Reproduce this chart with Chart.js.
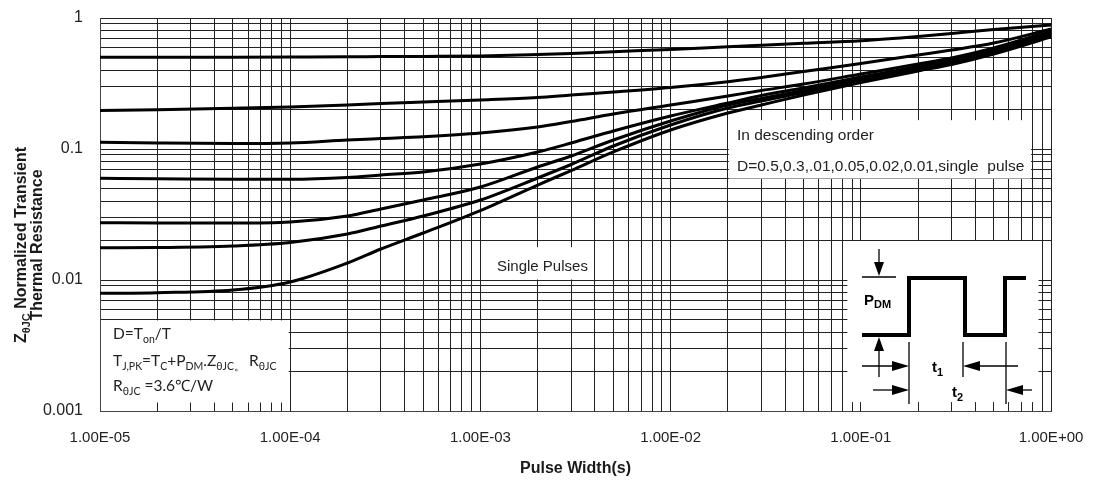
<!DOCTYPE html>
<html>
<head>
<meta charset="utf-8">
<script src="https://cdn.jsdelivr.net/npm/chart.js@4/dist/chart.umd.min.js"></script>
<style>
  html, body { margin: 0; padding: 0; background: #fff; }
  canvas { display: block; }
</style>
</head>
<body>
<canvas id="c" width="1095" height="480"></canvas>
<script>
// Pulse widths (s) at which the curves are sampled
const pulseWidths = [1e-5, 2e-5, 5e-5, 1e-4, 2e-4, 3e-4, 5e-4, 1e-3, 2e-3, 3e-3, 5e-3, 1e-2, 2e-2, 3e-2, 5e-2, 0.1, 0.2, 0.3, 0.5, 1];

// Normalized transient thermal impedance Z(thetaJC), one array per duty cycle
const zD050 = [0.501, 0.501, 0.5022, 0.5039, 0.5057, 0.5075, 0.5093, 0.5129, 0.5264, 0.5367, 0.553, 0.5747, 0.6036, 0.6197, 0.6407, 0.6707, 0.7224, 0.7615, 0.8169, 0.8843];
const zD030 = [0.1967, 0.1995, 0.2045, 0.2092, 0.2168, 0.2226, 0.2285, 0.2366, 0.2472, 0.2583, 0.2723, 0.2947, 0.3264, 0.3513, 0.3905, 0.4494, 0.5218, 0.5697, 0.6441, 0.8243];
const zD010 = [0.1125, 0.1111, 0.1101, 0.1111, 0.1171, 0.1202, 0.1241, 0.1324, 0.1472, 0.1621, 0.185, 0.2168, 0.2538, 0.2796, 0.3134, 0.3737, 0.4456, 0.4951, 0.59, 0.7957];
const zD005 = [0.0597, 0.0593, 0.0587, 0.0587, 0.0606, 0.0633, 0.0667, 0.0768, 0.0949, 0.1111, 0.1372, 0.1786, 0.2245, 0.2562, 0.2921, 0.3544, 0.4264, 0.4778, 0.5697, 0.7749];
const zD002 = [0.0274, 0.0272, 0.0272, 0.0277, 0.0308, 0.0348, 0.0408, 0.0513, 0.0729, 0.0884, 0.1171, 0.1635, 0.2168, 0.2429, 0.2796, 0.3422, 0.4153, 0.4654, 0.5598, 0.7548];
const zD001 = [0.01764, 0.0177, 0.01818, 0.01933, 0.02245, 0.02583, 0.03081, 0.04079, 0.06008, 0.07615, 0.1054, 0.1525, 0.2056, 0.2325, 0.2699, 0.3333, 0.4045, 0.4533, 0.5452, 0.7354];
const zSingle = [0.00791, 0.008, 0.00838, 0.00966, 0.01348, 0.01724, 0.02285, 0.0339, 0.0531, 0.0685, 0.0949, 0.1396, 0.1883, 0.2168, 0.2583, 0.3218, 0.394, 0.4416, 0.531, 0.716];

// Axis labels shown at each decade
const xTickLabels = ['1.00E-05', '1.00E-04', '1.00E-03', '1.00E-02', '1.00E-01', '1.00E+00'];
const xDecades = [1e-5, 1e-4, 1e-3, 1e-2, 1e-1, 1];
const yTickLabels = ['0.001', '0.01', '0.1', '1'];
const yDecades = [1e-3, 1e-2, 1e-1, 1];

const series = [zD050, zD030, zD010, zD005, zD002, zD001, zSingle];

// 1..9 x 10^n grid values between the decades
function logGrid(decades) {
  const out = [];
  for (let i = 0; i < decades.length - 1; i++) {
    for (let k = 1; k <= 9; k++) out.push(+(decades[i] * k).toPrecision(3));
  }
  out.push(decades[decades.length - 1]);
  return out;
}
function decadeLabel(value, decades, labels) {
  for (let i = 0; i < decades.length; i++) {
    if (Math.abs(value / decades[i] - 1) < 1e-6) return labels[i];
  }
  return '';
}

const SANS = '"Liberation Sans", Arial, sans-serif';
const INK = '#1a1a1a';

// Text with a lowered, smaller suffix; returns the end x position
function subText(ctx, parts, x, y, align) {
  // parts: [text, size, weight, dy, family]
  let widths = parts.map(p => { ctx.font = `${p[2]} ${p[1]}px ${p[4] || SANS}`; return ctx.measureText(p[0]).width; });
  let total = widths.reduce((a, b) => a + b, 0);
  let cx = align === 'center' ? x - total / 2 : x;
  parts.forEach((p, i) => {
    ctx.font = `${p[2]} ${p[1]}px ${p[4] || SANS}`;
    ctx.fillText(p[0], cx, y + (p[3] || 0));
    cx += widths[i];
  });
  return cx;
}

function arrowHead(ctx, tipX, tipY, dir, len, half) {
  ctx.beginPath();
  if (dir === 'right') { ctx.moveTo(tipX, tipY); ctx.lineTo(tipX - len, tipY - half); ctx.lineTo(tipX - len, tipY + half); }
  if (dir === 'left') { ctx.moveTo(tipX, tipY); ctx.lineTo(tipX + len, tipY - half); ctx.lineTo(tipX + len, tipY + half); }
  if (dir === 'down') { ctx.moveTo(tipX, tipY); ctx.lineTo(tipX - half, tipY - len); ctx.lineTo(tipX + half, tipY - len); }
  if (dir === 'up') { ctx.moveTo(tipX, tipY); ctx.lineTo(tipX - half, tipY + len); ctx.lineTo(tipX + half, tipY + len); }
  ctx.closePath();
  ctx.fill();
}

// White panels for the notes, laid over the grid
const panelsPlugin = {
  id: 'panels',
  beforeDatasetsDraw(chart) {
    const { ctx, scales: { x, y } } = chart;
    ctx.save();
    ctx.fillStyle = '#fff';
    const rect = (x0, x1, y0, y1) => ctx.fillRect(x0, y0, x1 - x0, y1 - y0);
    // legend note
    rect(x.getPixelForValue(0.02) + 1, x.getPixelForValue(0.8) - 1.5, y.getPixelForValue(0.166), y.getPixelForValue(0.06) + 0.5);
    // single pulses note
    rect(x.getPixelForValue(1e-3) + 2, x.getPixelForValue(4e-3) - 2, y.getPixelForValue(0.0178), y.getPixelForValue(0.01) - 0.5);
    // formula note
    rect(x.getPixelForValue(1e-5) + 1, x.getPixelForValue(1e-4) - 1.5, y.getPixelForValue(0.005) + 1, y.getPixelForValue(0.00116));
    // pulse diagram
    rect(x.getPixelForValue(0.085), x.getPixelForValue(0.86), y.getPixelForValue(0.0202) + 1, y.getPixelForValue(0.00117));
    ctx.restore();
  },
  afterDraw(chart) {
    const { ctx, chartArea: ca } = chart;
    ctx.save();
    ctx.fillStyle = INK;
    ctx.textBaseline = 'alphabetic';

    // Axis titles
    ctx.font = `bold 16px ${SANS}`;
    ctx.textAlign = 'center';
    ctx.fillText('Pulse Width(s)', (ca.left + ca.right) / 2, 473);

    ctx.save();
    ctx.translate(0, 245);
    ctx.rotate(-Math.PI / 2);
    ctx.textAlign = 'left';
    subText(ctx, [['Z', 16, 'bold', 0], ['θJC', 11, 'bold', 4], [' Normalized Transient', 16, 'bold', 0]], 0, 26, 'center');
    ctx.textAlign = 'center';
    ctx.font = `bold 16px ${SANS}`;
    ctx.fillText('Thermal Resistance', 0, 42);
    ctx.restore();

    ctx.textAlign = 'left';
    // Legend note
    ctx.font = `15.5px ${SANS}`;
    ctx.fillStyle = '#222';
    ctx.fillText('In descending order', 737, 140);
    ctx.fillText('D=0.5,0.3,.01,0.05,0.02,0.01,single  pulse', 737, 171);
    // Single pulses note
    ctx.font = `15px ${SANS}`;
    ctx.fillText('Single Pulses', 497, 271);

    // Formula note
    const F = 'Lato, "Open Sans", sans-serif';
    ctx.fillStyle = '#222';
    subText(ctx, [['D=T', 15.5, 'normal', 0, F], ['on', 10.5, 'normal', 4, F], ['/T', 15.5, 'normal', 0, F]], 113, 339, 'left');
    subText(ctx, [['T', 15.5, 'normal', 0, F], ['J,PK', 10.5, 'normal', 4, F], ['=T', 15.5, 'normal', 0, F], ['C', 10.5, 'normal', 4, F],
      ['+P', 15.5, 'normal', 0, F], ['DM', 10.5, 'normal', 4, F], ['.Z', 15.5, 'normal', 0, F], ['θJC。', 10.5, 'normal', 4, F],
      [' R', 15.5, 'normal', 0, F], ['θJC', 10.5, 'normal', 4, F]], 113, 366, 'left');
    subText(ctx, [['R', 15.5, 'normal', 0, F], ['θJC', 10.5, 'normal', 4, F], [' =3.6℃/W', 15.5, 'normal', 0, F]], 113, 391, 'left');

    // Pulse waveform diagram
    ctx.strokeStyle = '#000';
    ctx.fillStyle = '#000';
    ctx.lineJoin = 'miter';
    ctx.lineWidth = 4;
    ctx.beginPath();
    ctx.moveTo(862, 335); ctx.lineTo(909, 335); ctx.lineTo(909, 278); ctx.lineTo(965, 278);
    ctx.lineTo(965, 335); ctx.lineTo(1005, 335); ctx.lineTo(1005, 278); ctx.lineTo(1026, 278);
    ctx.stroke();

    ctx.lineWidth = 1.3;
    const seg = (a, b, c, d) => { ctx.beginPath(); ctx.moveTo(a, b); ctx.lineTo(c, d); ctx.stroke(); };
    seg(879, 249, 879, 264);
    arrowHead(ctx, 879, 276, 'down', 14, 5);
    seg(862, 277, 896, 277);
    arrowHead(ctx, 879, 337, 'up', 14, 5);
    seg(879, 350, 879, 377);
    seg(909, 342, 909, 404);
    seg(963, 342, 963, 377);
    seg(1006, 342, 1006, 404);
    seg(862, 366, 895, 366);
    arrowHead(ctx, 909, 366, 'right', 17, 5);
    seg(978, 366, 1018, 366);
    arrowHead(ctx, 963, 366, 'left', 17, 5);
    seg(873, 390, 895, 390);
    arrowHead(ctx, 909, 390, 'right', 17, 5);
    seg(1020, 390, 1032, 390);
    arrowHead(ctx, 1006, 390, 'left', 17, 5);

    subText(ctx, [['P', 15, 'bold', 0], ['DM', 11, 'bold', 3]], 864, 305, 'left');
    subText(ctx, [['t', 15, 'bold', 0], ['1', 11, 'bold', 4]], 932, 372, 'left');
    subText(ctx, [['t', 15, 'bold', 0], ['2', 11, 'bold', 4]], 952, 397, 'left');
    ctx.restore();
  }
};

new Chart(document.getElementById('c'), {
  type: 'line',
  data: {
    datasets: series.map(vals => ({
      data: pulseWidths.map((t, i) => ({ x: t, y: vals[i] })),
      borderColor: '#000',
      borderWidth: 3,
      pointRadius: 0,
      fill: false,
      cubicInterpolationMode: 'monotone'
    }))
  },
  options: {
    responsive: false,
    animation: false,
    devicePixelRatio: 1,
    layout: { padding: { top: 18, right: 44, left: 0, bottom: 0 } },
    plugins: { legend: { display: false }, tooltip: { enabled: false } },
    scales: {
      x: {
        type: 'logarithmic',
        min: 1e-5,
        max: 1,
        afterBuildTicks: s => { s.ticks = logGrid(xDecades).map(v => ({ value: v })); },
        afterFit: s => { s.height = 69; s.paddingLeft = 0; s.paddingRight = 0; },
        grid: { color: '#222', lineWidth: 1, drawTicks: false },
        border: { color: '#444', width: 1 },
        ticks: {
          autoSkip: false, maxRotation: 0, padding: 18, color: '#222',
          font: { family: SANS, size: 15 },
          callback: v => decadeLabel(v, xDecades, xTickLabels)
        }
      },
      y: {
        type: 'logarithmic',
        min: 1e-3,
        max: 1,
        afterBuildTicks: s => { s.ticks = logGrid(yDecades).map(v => ({ value: v })); },
        afterFit: s => { s.width = 100; s.paddingTop = 0; s.paddingBottom = 0; },
        grid: { color: '#222', lineWidth: 1, drawTicks: false },
        border: { color: '#444', width: 1 },
        ticks: {
          autoSkip: false, padding: 17, color: '#222',
          font: { family: SANS, size: 16 },
          callback: v => decadeLabel(v, yDecades, yTickLabels)
        }
      }
    }
  },
  plugins: [panelsPlugin]
});
</script>
</body>
</html>
